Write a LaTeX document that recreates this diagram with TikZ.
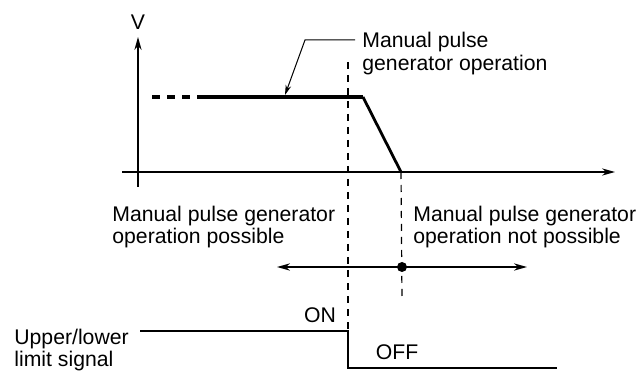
\documentclass[tikz,border=0pt]{standalone}
\usepackage{fontspec}
\setmainfont{Liberation Sans}
\usetikzlibrary{arrows.meta}
\tikzset{axisline/.style={line width=0.75pt, -{Stealth[length=6.5pt,width=3.6pt]}}}
\tikzset{guide/.style={line width=0.6pt, dash pattern=on 3.5pt off 3pt}}
\tikzset{lbl/.style={inner sep=0pt, align=left, font=\fontsize{10.6}{11.3}\selectfont}}
\tikzset{pointer/.style={line width=0.5pt, -{Stealth[length=5pt,width=2.8pt]}}}

\begin{document}
\begin{tikzpicture}[x=0.5pt, y=-0.5pt]
\useasboundingbox (0,0) rectangle (638,374);
% chart axes
\coordinate (ybot) at (138,187);
\coordinate (ytop) at (138,37);
\coordinate (xleft) at (122,172);
\coordinate (xright) at (615,172);
\draw[axisline] (ybot) -- (ytop);
\draw[axisline] (xleft) -- (xright);
\node[lbl] (v) at (138,22) {V};
% speed profile
\coordinate (p0) at (152,97);
\coordinate (p1) at (198,97);
\coordinate (p2) at (363,97);
\coordinate (p3) at (401,172);
\draw[line width=2pt, dash pattern=on 4pt off 3.5pt] (p0) -- (p1);
\draw[line width=2pt] (p1) -- (p2);
\draw[line width=1.4pt] (p2) -- (p3);
\node[lbl, anchor=west] (mpg) at (362,53.5) {Manual pulse\\generator operation};
\coordinate (bend) at (305,40);
\coordinate (hit) at (285,95);
\draw[pointer] ([xshift=-3.5pt]bend -| mpg.west) -- (bend) -- (hit);
% limit signal
\coordinate (s0) at (140,331);
\coordinate (s1) at (348,331);
\coordinate (s2) at (348,368);
\coordinate (s3) at (557,368);
\draw[line width=0.7pt] (s0) -- (s1) -- (s2) -- (s3);
\node[lbl, anchor=west] (sig) at (14,350) {Upper/lower\\limit signal};
\node[lbl] (on) at (320,315) {ON};
\node[lbl] (off) at (397,352) {OFF};
% guide lines
\coordinate (g1) at (348,62);
\coordinate (g2) at (402,300);
\draw[guide] (g1) -- (s1);
\draw[guide] (p3) -- (g2);
% possible / not possible range
\coordinate (aleft) at (277,267);
\coordinate (aright) at (527,267);
\node[circle, fill, inner sep=0pt, minimum size=5pt] (stop) at (402,267) {};
\draw[line width=1pt, {Stealth[length=6.5pt,width=3.6pt]}-{Stealth[length=6.5pt,width=3.6pt]}] (aleft) -- (aright);
\node[lbl, anchor=west] (ok) at (112,227) {Manual pulse generator\\operation possible};
\node[lbl, anchor=west] (ng) at (413,227) {Manual pulse generator\\operation not possible};
\end{tikzpicture}
\end{document}
